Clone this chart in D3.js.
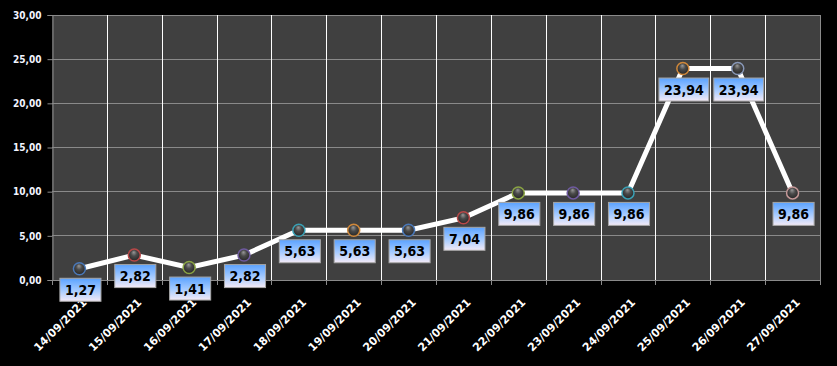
<!DOCTYPE html>
<html>
<head>
<meta charset="utf-8">
<script src="https://cdn.jsdelivr.net/npm/d3@7/dist/d3.min.js"></script>
<style>
html,body{margin:0;padding:0;background:#000;}
svg{display:block;}
</style>
</head>
<body>
<script>
const categories = ["14/09/2021","15/09/2021","16/09/2021","17/09/2021","18/09/2021","19/09/2021","20/09/2021","21/09/2021","22/09/2021","23/09/2021","24/09/2021","25/09/2021","26/09/2021","27/09/2021"];
const values = [1.27, 2.82, 1.41, 2.82, 5.63, 5.63, 5.63, 7.04, 9.86, 9.86, 9.86, 23.94, 23.94, 9.86];
const yTicks = [0, 5, 10, 15, 20, 25, 30];
const markerColors = ["#4a78b8","#b84848","#8aa444","#6e5a9e","#3aa0b4","#d0883a","#4a78b8","#b84848","#8aa444","#6e5a9e","#3aa0b4","#d0883a","#8898b8","#c49898"];

const W = 837, H = 366;
const margin = {left: 52, right: 17, top: 15, bottom: 86};
const fmt = v => d3.format(".2f")(v).replace(".", ",");

const svg = d3.select("body").append("svg").attr("width", W).attr("height", H);
svg.append("rect").attr("width", W).attr("height", H).attr("fill", "#000");

const defs = svg.append("defs");
const lg = defs.append("linearGradient").attr("id","lblGrad").attr("x1",0).attr("y1",0).attr("x2",0).attr("y2",1);
lg.append("stop").attr("offset","0%").attr("stop-color","#5aa2ff");
lg.append("stop").attr("offset","55%").attr("stop-color","#a8ccff");
lg.append("stop").attr("offset","100%").attr("stop-color","#f4eaf6");
const rg = defs.append("radialGradient").attr("id","mkGrad").attr("cx","50%").attr("cy","45%").attr("r","55%").attr("fx","45%").attr("fy","25%");
rg.append("stop").attr("offset","0%").attr("stop-color","#9a9a9a");
rg.append("stop").attr("offset","45%").attr("stop-color","#4a4a4a");
rg.append("stop").attr("offset","100%").attr("stop-color","#262626");

const x = d3.scaleBand().domain(categories).range([margin.left, W - margin.right]);
const y = d3.scaleLinear().domain([0, 30]).range([H - margin.bottom, margin.top]);

// plot area
svg.append("rect").attr("x", margin.left).attr("y", margin.top)
  .attr("width", W - margin.right - margin.left).attr("height", y(0) - margin.top)
  .attr("fill", "#404040");

// horizontal gridlines
svg.append("g").selectAll("line").data(yTicks).join("line")
  .attr("x1", margin.left).attr("x2", W - margin.right)
  .attr("y1", d => y(d)).attr("y2", d => y(d))
  .attr("stroke", "#8a8a8a").attr("stroke-width", 1).attr("shape-rendering","crispEdges");

// vertical gridlines at category boundaries
const bounds = categories.slice(1).map(c => x(c));
svg.append("g").selectAll("line").data(bounds).join("line")
  .attr("x1", d => Math.round(d)+0.5).attr("x2", d => Math.round(d)+0.5)
  .attr("y1", margin.top).attr("y2", y(0))
  .attr("stroke", "#ffffff").attr("stroke-width", 1);

// right border
svg.append("line").attr("x1", W - margin.right + 0.5).attr("x2", W - margin.right + 0.5)
  .attr("y1", margin.top).attr("y2", y(0)).attr("stroke", "#8a8a8a");

// Y axis
const yAxis = d3.axisLeft(y).tickValues(yTicks).tickSize(5).tickPadding(6).tickFormat(fmt);
const gy = svg.append("g").attr("transform", `translate(${margin.left + 0.5},0)`).call(yAxis);
gy.select(".domain").attr("stroke", "#8a8a8a");
gy.selectAll(".tick line").attr("stroke", "#8a8a8a");
gy.selectAll(".tick text").attr("fill", "#f2f4ff")
  .style("font-family", "'DejaVu Sans Condensed','DejaVu Sans',sans-serif")
  .style("font-weight", "bold").style("font-size", "10px");

// X axis
const tickPos = [margin.left, ...bounds, W - margin.right];
svg.append("line").attr("x1", margin.left).attr("x2", W - margin.right)
  .attr("y1", y(0) + 0.5).attr("y2", y(0) + 0.5).attr("stroke", "#8a8a8a");
svg.append("g").selectAll("line").data(tickPos).join("line")
  .attr("x1", d => Math.round(d)+0.5).attr("x2", d => Math.round(d)+0.5)
  .attr("y1", y(0)).attr("y2", y(0) + 5).attr("stroke", "#8a8a8a");

svg.append("g").selectAll("text").data(categories).join("text")
  .attr("transform", d => `translate(${x(d) + x.bandwidth()/2 + 8},${y(0) + 23}) rotate(-45)`)
  .attr("text-anchor", "end")
  .attr("fill", "#ffffff")
  .style("font-family", "'DejaVu Sans',sans-serif")
  .style("font-weight", "bold").style("font-size", "11px")
  .text(d => d);

// line
const pts = categories.map((c, i) => ({c, v: values[i], col: markerColors[i]}));
const line = d3.line().x(d => x(d.c) + x.bandwidth()/2).y(d => y(d.v));
svg.append("path").datum(pts).attr("d", line)
  .attr("fill", "none").attr("stroke", "#ffffff").attr("stroke-width", 5)
  .attr("stroke-linejoin", "miter");

// markers
svg.append("g").selectAll("circle").data(pts).join("circle")
  .attr("cx", d => x(d.c) + x.bandwidth()/2).attr("cy", d => y(d.v)).attr("r", 6)
  .attr("fill", "url(#mkGrad)").attr("stroke", d => d.col).attr("stroke-width", 1.5);

// data labels
const lab = svg.append("g").selectAll("g").data(pts).join("g")
  .attr("transform", d => `translate(${x(d.c) + x.bandwidth()/2 + 1},${y(d.v) + 9.5})`);
lab.append("text")
  .attr("x", 0).attr("y", 11.5).attr("dy", "0.36em").attr("text-anchor", "middle")
  .attr("fill", "#000")
  .style("font-family", "'DejaVu Sans Condensed','DejaVu Sans',sans-serif")
  .style("font-weight", "bold").style("font-size", "14px")
  .text(d => fmt(d.v));
lab.each(function() {
  const g = d3.select(this);
  const t = g.select("text");
  const w = t.node().getComputedTextLength();
  g.insert("rect", "text").attr("x", -w/2 - 5).attr("y", 0).attr("width", w + 10).attr("height", 23)
    .attr("fill", "url(#lblGrad)").attr("stroke", "#a6a6a6").attr("stroke-width", 1);
});
</script>
</body>
</html>
